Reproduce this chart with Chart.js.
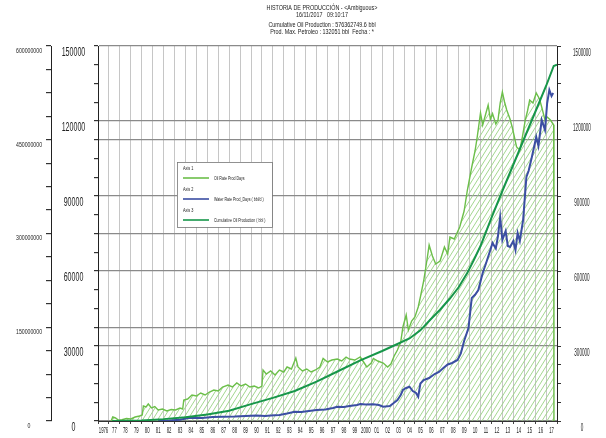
<!DOCTYPE html>
<html>
<head>
<meta charset="utf-8">
<script src="https://cdn.jsdelivr.net/npm/chart.js@4"></script>
<style>
  html, body { margin: 0; padding: 0; background: #fff; }
  canvas { display: block; }
</style>
</head>
<body>
<canvas id="myChart" width="606" height="438"></canvas>
<script>
// data
const oilYears = [1977.2, 1977.35, 1977.6, 1977.9, 1978.2, 1978.6, 1979.0, 1979.4, 1979.8, 1980.05, 1980.15, 1980.4, 1980.6, 1980.9, 1981.2, 1981.5, 1981.9, 1982.3, 1982.7, 1983.1, 1983.5, 1983.75, 1983.85, 1984.2, 1984.6, 1985.0, 1985.4, 1985.8, 1986.2, 1986.6, 1987.0, 1987.4, 1987.9, 1988.3, 1988.7, 1989.1, 1989.5, 1989.9, 1990.3, 1990.7, 1991.0, 1991.1, 1991.4, 1991.8, 1992.2, 1992.6, 1993.0, 1993.3, 1993.7, 1994.1, 1994.3, 1994.7, 1995.1, 1995.5, 1995.9, 1996.3, 1996.6, 1997.0, 1997.4, 1997.9, 1998.3, 1998.7, 1999.0, 1999.5, 2000.0, 2000.3, 2000.6, 2001.0, 2001.2, 2001.6, 2002.1, 2002.5, 2002.8, 2003.1, 2003.4, 2003.7, 2003.9, 2004.2, 2004.4, 2004.7, 2005.0, 2005.3, 2005.5, 2005.8, 2006.1, 2006.3, 2006.6, 2006.9, 2007.3, 2007.7, 2008.0, 2008.2, 2008.6, 2009.1, 2009.5, 2009.8, 2010.2, 2010.5, 2010.7, 2011.0, 2011.2, 2011.4, 2011.7, 2011.9, 2012.1, 2012.4, 2012.6, 2012.8, 2013.0, 2013.2, 2013.4, 2013.7, 2013.9, 2014.1, 2014.3, 2014.6, 2014.8, 2015.1, 2015.3, 2015.5, 2015.8, 2016.1, 2016.4, 2016.6, 2016.9, 2017.1, 2017.4, 2017.7, 2017.72];
const oilRate = [0, 1600, 1200, 300, 500, 1000, 800, 1600, 2000, 2400, 6000, 5600, 6800, 5200, 5800, 4400, 4800, 4000, 4600, 4400, 5200, 4800, 8400, 8800, 10400, 10000, 11200, 10400, 11600, 12400, 12000, 13600, 14400, 13600, 15200, 14000, 14800, 13600, 14000, 13200, 14000, 20400, 18800, 20000, 18400, 20400, 19600, 21600, 20800, 25200, 21600, 20000, 20800, 19600, 20400, 21600, 25000, 23600, 24400, 24800, 24000, 25600, 24800, 24400, 25600, 23600, 21600, 23200, 25000, 24000, 23200, 21600, 22800, 26000, 28400, 31600, 37600, 42400, 36400, 40000, 41600, 45600, 49600, 56000, 64400, 70400, 66000, 62800, 64000, 69600, 66800, 73600, 72800, 77600, 84000, 92400, 101600, 108000, 113600, 123200, 118400, 121600, 126400, 120800, 123000, 118800, 120400, 127200, 131600, 127600, 124400, 120800, 117600, 113600, 109600, 108400, 112800, 120400, 124000, 128400, 127200, 131200, 128800, 125600, 120400, 121600, 120400, 118400, 0];

const waterYears = [1981.5, 1982.5, 1983.5, 1984.4, 1985.5, 1986.5, 1987.4, 1988.5, 1989.5, 1990.5, 1991.3, 1991.8, 1992.6, 1993.3, 1994.0, 1994.6, 1995.3, 1996.0, 1996.8, 1997.5, 1997.9, 1998.5, 1999.0, 1999.7, 2000.0, 2000.5, 2001.2, 2001.7, 2002.1, 2002.7, 2003.0, 2003.4, 2003.7, 2003.9, 2004.2, 2004.5, 2004.8, 2005.1, 2005.3, 2005.5, 2005.8, 2006.3, 2006.8, 2007.2, 2007.6, 2008.0, 2008.4, 2008.9, 2009.2, 2009.5, 2009.9, 2010.2, 2010.5, 2010.8, 2011.2, 2011.5, 2011.9, 2012.1, 2012.4, 2012.6, 2012.8, 2013.0, 2013.3, 2013.5, 2013.7, 2014.0, 2014.2, 2014.4, 2014.6, 2014.9, 2015.2, 2015.4, 2015.7, 2016.1, 2016.3, 2016.6, 2016.9, 2017.1, 2017.3, 2017.5, 2017.65];
const waterRate = [0, 2000, 5000, 13000, 12000, 16000, 17000, 18000, 20000, 22000, 20000, 22000, 24000, 30000, 37000, 36000, 40000, 44000, 46000, 52000, 57000, 56000, 60000, 64000, 68000, 66000, 67000, 64000, 57000, 60000, 70000, 84000, 104000, 124000, 132000, 137000, 120000, 112000, 97000, 150000, 164000, 172000, 188000, 196000, 212000, 226000, 232000, 244000, 270000, 320000, 372000, 492000, 505000, 524000, 592000, 630000, 684000, 712000, 690000, 740000, 816000, 724000, 760000, 700000, 696000, 720000, 684000, 752000, 720000, 804000, 976000, 1000000, 1056000, 1136000, 1100000, 1204000, 1164000, 1272000, 1324000, 1300000, 1312000];

const cumYears = [1977.3, 1980.0, 1982.0, 1984.0, 1986.0, 1988.0, 1990.0, 1992.0, 1994.0, 1996.0, 1998.0, 2000.0, 2002.0, 2003.0, 2004.5, 2005.5, 2006.4, 2007.3, 2008.2, 2009.0, 2009.8, 2010.4, 2011.0, 2012.0, 2013.0, 2014.0, 2015.0, 2016.0, 2017.0, 2017.7, 2018.0];
const cumOil = [0, 800000, 3000000, 6000000, 10500000, 16500000, 27000000, 37000000, 48000000, 63000000, 80000000, 97000000, 112000000, 120000000, 132000000, 145000000, 162000000, 178000000, 196000000, 214000000, 237000000, 258000000, 280000000, 325000000, 368000000, 410000000, 452000000, 494000000, 536000000, 568000000, 570000000];

const yearTicks = [];
for (let yr = 1976; yr <= 2018; yr++) yearTicks.push(yr);
const oilAxisLabels = [0, 30000, 60000, 90000, 120000, 150000];
const waterAxisLabels = [0, 300000, 600000, 900000, 1200000, 1500000];
const cumAxisLabels = [0, 150000000, 300000000, 450000000, 600000000];

const titleLines = [
  'HISTORIA DE PRODUCCIÓN - <Ambiguous>',
  '16/11/2017   09:10:17',
  'Cumulative Oil Production : 576362749.6 bbl',
  'Prod. Max. Petroleo : 132051 bbl  Fecha : *'
];

const fontFamily = "'Liberation Sans', Arial, sans-serif";

function minorTicks(max, parts) {
  const out = [];
  for (let i = 0; i <= parts; i++) out.push({ value: max * i / parts });
  return out;
}

// the original uses a tall narrow face; squeeze the labels sideways
function squeezeLabels(scale, sx) {
  if (scale._squeezed) return;
  scale._squeezed = true;
  const drawLabels = scale.drawLabels;
  scale.drawLabels = function(area) {
    const c = this.ctx;
    const fill = c.fillText;
    c.fillText = function(text, x, y) {
      this.save();
      this.translate(x, y);
      this.scale(sx, 1);
      fill.call(this, text, 0, 0);
      this.restore();
    };
    drawLabels.call(this, area);
    delete c.fillText;
  };
}

function squeezedText(ctx, text, x, y, sx) {
  ctx.save();
  ctx.translate(x, y);
  ctx.scale(sx, 1);
  ctx.fillText(text, 0, 0);
  ctx.restore();
}

function makeHatch() {
  const c = document.createElement('canvas');
  c.width = 5;
  c.height = 8;
  const g = c.getContext('2d');
  g.strokeStyle = '#97d282';
  g.lineWidth = 0.9;
  [-5, 0, 5].forEach(function(dx) {
    g.beginPath();
    g.moveTo(dx, 8);
    g.lineTo(dx + 5, 0);
    g.stroke();
  });
  return g.createPattern(c, 'repeat');
}

const headerAndLegend = {
  id: 'headerAndLegend',
  afterDraw(chart) {
    const ctx = chart.ctx;
    ctx.save();
    ctx.fillStyle = '#222';
    ctx.textAlign = 'center';
    ctx.textBaseline = 'middle';
    ctx.font = '7.5px ' + fontFamily;
    const ys = [8, 15, 25, 32];
    titleLines.forEach(function(t, i) { squeezedText(ctx, t, 322, ys[i], 0.72); });

    // legend box
    ctx.fillStyle = '#fff';
    ctx.fillRect(177, 162, 95, 65);
    ctx.strokeStyle = '#777';
    ctx.lineWidth = 0.8;
    ctx.strokeRect(177.5, 162.5, 95, 65);
    const rows = [
      ['Axis 1', 'Oil Rate Prod Days', '#6cbf4a'],
      ['Axis 2', 'Water Rate Prod_Days ( bbl/d )', '#3b4ea3'],
      ['Axis 3', 'Cumulative Oil Production ( bbl )', '#17964a']
    ];
    ctx.font = '5.5px ' + fontFamily;
    ctx.textAlign = 'left';
    rows.forEach(function(r, i) {
      const y0 = 168 + i * 21;
      ctx.fillStyle = '#222';
      squeezedText(ctx, r[0], 183, y0, 0.7);
      squeezedText(ctx, r[1], 214, y0 + 10, 0.65);
      ctx.strokeStyle = r[2];
      ctx.lineWidth = 1.6;
      ctx.beginPath();
      ctx.moveTo(183, y0 + 10);
      ctx.lineTo(209, y0 + 10);
      ctx.stroke();
    });
    ctx.restore();
  }
};

const ctx = document.getElementById('myChart');

new Chart(ctx, {
  type: 'line',
  data: {
    datasets: [{
      label: 'Cumulative Oil Production ( bbl )',
      data: cumYears.map(function(x, i) { return { x: x, y: cumOil[i] }; }),
      yAxisID: 'y3',
      borderColor: '#17964a',
      borderWidth: 2,
      pointRadius: 0,
      fill: false
    }, {
      label: 'Water Rate Prod_Days ( bbl/d )',
      data: waterYears.map(function(x, i) { return { x: x, y: waterRate[i] }; }),
      yAxisID: 'y2',
      borderColor: '#3b4ea3',
      borderWidth: 2,
      pointRadius: 0,
      fill: false
    }, {
      label: 'Oil Rate Prod Days',
      data: oilYears.map(function(x, i) { return { x: x, y: oilRate[i] }; }),
      yAxisID: 'y',
      borderColor: '#6cbf4a',
      borderWidth: 1.4,
      pointRadius: 0,
      fill: 'origin',
      backgroundColor: makeHatch()
    }]
  },
  options: {
    responsive: false,
    animation: false,
    layout: { padding: { top: 46, left: 0, right: 0, bottom: 0 } },
    plugins: {
      legend: { display: false },
      tooltip: { enabled: false }
    },
    scales: {
      x: {
        type: 'linear',
        min: 1976,
        max: 2018,
        afterBuildTicks: function(s) { s.ticks = yearTicks.map(function(v) { return { value: v }; }); },
        afterFit: function(s) { s.height = 17; squeezeLabels(s, 0.5); },
        grid: { color: '#c6c6c6', lineWidth: 1, tickLength: 3, tickColor: '#444' },
        border: { color: '#333', width: 1 },
        ticks: {
          autoSkip: false,
          maxRotation: 0,
          labelOffset: 5.5,
          padding: 2,
          color: '#222',
          font: { family: fontFamily, size: 8.5 },
          callback: function(v) {
            if (v === 2018) return '';
            if (v === 1976 || v === 2000) return String(v);
            return String(v).slice(2);
          }
        }
      },
      y: {
        position: 'left',
        min: 0,
        max: 150000,
        weight: 0,
        afterBuildTicks: function(s) { s.ticks = minorTicks(150000, 20); },
        afterFit: function(s) { s.width = 47; squeezeLabels(s, 0.59); },
        grid: {
          color: function(c) { return oilAxisLabels.indexOf(c.tick.value) >= 0 ? '#8a8a8a' : 'rgba(0,0,0,0)'; },
          lineWidth: 1.2,
          tickLength: 4,
          tickColor: '#333'
        },
        border: { color: '#222', width: 1 },
        ticks: {
          autoSkip: false,
          crossAlign: 'center',
          padding: 0.5,
          labelOffset: 7,
          color: '#222',
          font: { family: fontFamily, size: 12 },
          callback: function(v) { return oilAxisLabels.indexOf(v) >= 0 ? String(v) : ''; }
        }
      },
      y3: {
        position: 'left',
        min: 0,
        max: 600000000,
        weight: 1,
        afterBuildTicks: function(s) { s.ticks = minorTicks(600000000, 16); },
        afterFit: function(s) { s.width = 51; squeezeLabels(s, 0.8); },
        grid: {
          color: function(c) {
            const v = c.tick.value;
            return (v > 0 && v < 600000000 && cumAxisLabels.indexOf(v) >= 0) ? '#8a8a8a' : 'rgba(0,0,0,0)';
          },
          lineWidth: 1.2,
          tickLength: 5,
          tickColor: '#333'
        },
        border: { color: '#222', width: 1 },
        ticks: {
          autoSkip: false,
          crossAlign: 'center',
          padding: 0.7,
          labelOffset: 5,
          color: '#222',
          font: { family: fontFamily, size: 6.5 },
          callback: function(v) { return cumAxisLabels.indexOf(v) >= 0 ? String(v) : ''; }
        }
      },
      y2: {
        position: 'right',
        min: 0,
        max: 1500000,
        afterBuildTicks: function(s) { s.ticks = minorTicks(1500000, 20); },
        afterFit: function(s) { s.width = 49; squeezeLabels(s, 0.46); },
        grid: { drawOnChartArea: false, tickLength: 4, tickColor: '#333' },
        border: { color: '#222', width: 1 },
        ticks: {
          autoSkip: false,
          crossAlign: 'center',
          padding: 1.5,
          labelOffset: 7,
          color: '#222',
          font: { family: fontFamily, size: 10 },
          callback: function(v) { return waterAxisLabels.indexOf(v) >= 0 ? String(v) : ''; }
        }
      }
    }
  },
  plugins: [headerAndLegend]
});
</script>
</body>
</html>
